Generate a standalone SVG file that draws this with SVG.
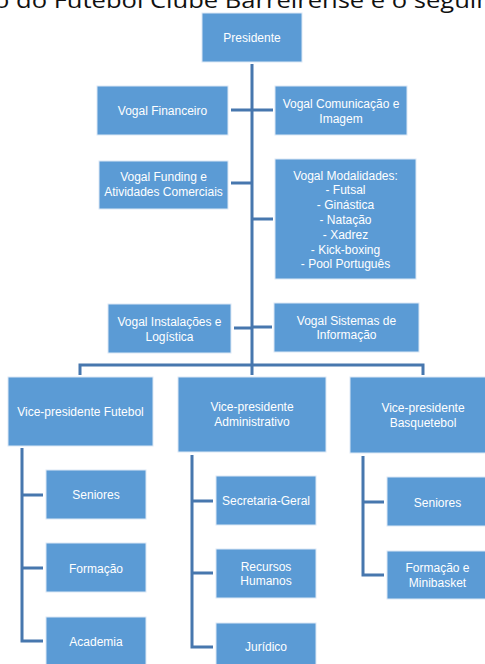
<svg xmlns="http://www.w3.org/2000/svg" width="485" height="664" viewBox="0 0 485 664">
<style>
.box{fill:#5B9BD5;stroke:#DCE8F5;stroke-width:1}
.t{font-family:"Liberation Sans",Arial,sans-serif;font-size:12px;fill:#FFFFFF;text-anchor:middle}
.c{fill:none;stroke:#4777AE;stroke-width:3}
.title{font-family:"Open Sans","Liberation Sans",sans-serif;font-size:22px;fill:#111111}
</style>
<rect width="485" height="664" fill="#FFFFFF"/>
<text class="title" x="-6" y="8" textLength="498" lengthAdjust="spacingAndGlyphs">o do Futebol Clube Barreirense e o seguin</text>
<g id="connectors">
<path class="c" d="M252 64V365"/>
<path class="c" d="M231 110H273"/>
<path class="c" d="M231 183H252"/>
<path class="c" d="M252 219H273"/>
<path class="c" d="M234 328H252"/>
<path class="c" d="M252 327H272"/>
<path class="c" d="M80 375V365H423V375M252 365V375"/>
<path class="c" d="M22 448V641H43M22 495H43M22 568H43"/>
<path class="c" d="M192 455V647H213M192 501H213M192 573H213"/>
<path class="c" d="M363 456V575H384M363 502H384"/>
</g>
<g id="presidente"><rect class="box" x="202" y="13" width="100" height="49"/><text class="t" x="252" y="41.5">Presidente</text></g>
<g id="vogal-financeiro"><rect class="box" x="97" y="86" width="131" height="49"/><text class="t" x="162.5" y="114.5">Vogal Financeiro</text></g>
<g id="vogal-comunicacao"><rect class="box" x="275" y="86" width="132" height="49"/><text class="t" x="341" y="107.5">Vogal Comunicação e</text><text class="t" x="341" y="122.5">Imagem</text></g>
<g id="vogal-funding"><rect class="box" x="99" y="161" width="129" height="48"/><text class="t" x="163.5" y="181">Vogal Funding e</text><text class="t" x="163.5" y="196">Atividades Comerciais</text></g>
<g id="vogal-modalidades"><rect class="box" x="275" y="159" width="141" height="120"/>
<text class="t" x="345.5" y="179.5">Vogal Modalidades:</text>
<text class="t" x="345.5" y="194.3">- Futsal</text>
<text class="t" x="345.5" y="209.1">- Ginástica</text>
<text class="t" x="345.5" y="223.9">- Natação</text>
<text class="t" x="345.5" y="238.7">- Xadrez</text>
<text class="t" x="345.5" y="253.5">- Kick-boxing</text>
<text class="t" x="345.5" y="268.3">- Pool Português</text></g>
<g id="vogal-instalacoes"><rect class="box" x="108" y="304" width="123" height="49"/><text class="t" x="169.5" y="326">Vogal Instalações e</text><text class="t" x="169.5" y="340.5">Logística</text></g>
<g id="vogal-sistemas"><rect class="box" x="274" y="303" width="145" height="49"/><text class="t" x="346.5" y="324.5">Vogal Sistemas de</text><text class="t" x="346.5" y="339">Informação</text></g>
<g id="vp-futebol"><rect class="box" x="8" y="377" width="145" height="69"/><text class="t" x="80.5" y="416">Vice-presidente Futebol</text></g>
<g id="vp-administrativo"><rect class="box" x="178" y="377" width="148" height="75"/><text class="t" x="252" y="411">Vice-presidente</text><text class="t" x="252" y="426">Administrativo</text></g>
<g id="vp-basquetebol"><rect class="box" x="350" y="377" width="146" height="76"/><text class="t" x="423" y="412">Vice-presidente</text><text class="t" x="423" y="427">Basquetebol</text></g>
<g id="fut-seniores"><rect class="box" x="46" y="470" width="100" height="49"/><text class="t" x="96" y="499">Seniores</text></g>
<g id="fut-formacao"><rect class="box" x="46" y="543" width="100" height="49"/><text class="t" x="96" y="572.5">Formação</text></g>
<g id="fut-academia"><rect class="box" x="46" y="617" width="100" height="52"/><text class="t" x="96" y="645.5">Academia</text></g>
<g id="adm-secretaria"><rect class="box" x="216" y="476" width="100" height="49"/><text class="t" x="266" y="505">Secretaria-Geral</text></g>
<g id="adm-recursos"><rect class="box" x="216" y="549" width="100" height="49"/><text class="t" x="266" y="570.5">Recursos</text><text class="t" x="266" y="585">Humanos</text></g>
<g id="adm-juridico"><rect class="box" x="216" y="623" width="100" height="49"/><text class="t" x="266" y="651">Jurídico</text></g>
<g id="bas-seniores"><rect class="box" x="387" y="477" width="102" height="49"/><text class="t" x="437.5" y="506.5">Seniores</text></g>
<g id="bas-formacao"><rect class="box" x="387" y="551" width="102" height="48"/><text class="t" x="437.5" y="572">Formação e</text><text class="t" x="437.5" y="586.5">Minibasket</text></g>
</svg>
